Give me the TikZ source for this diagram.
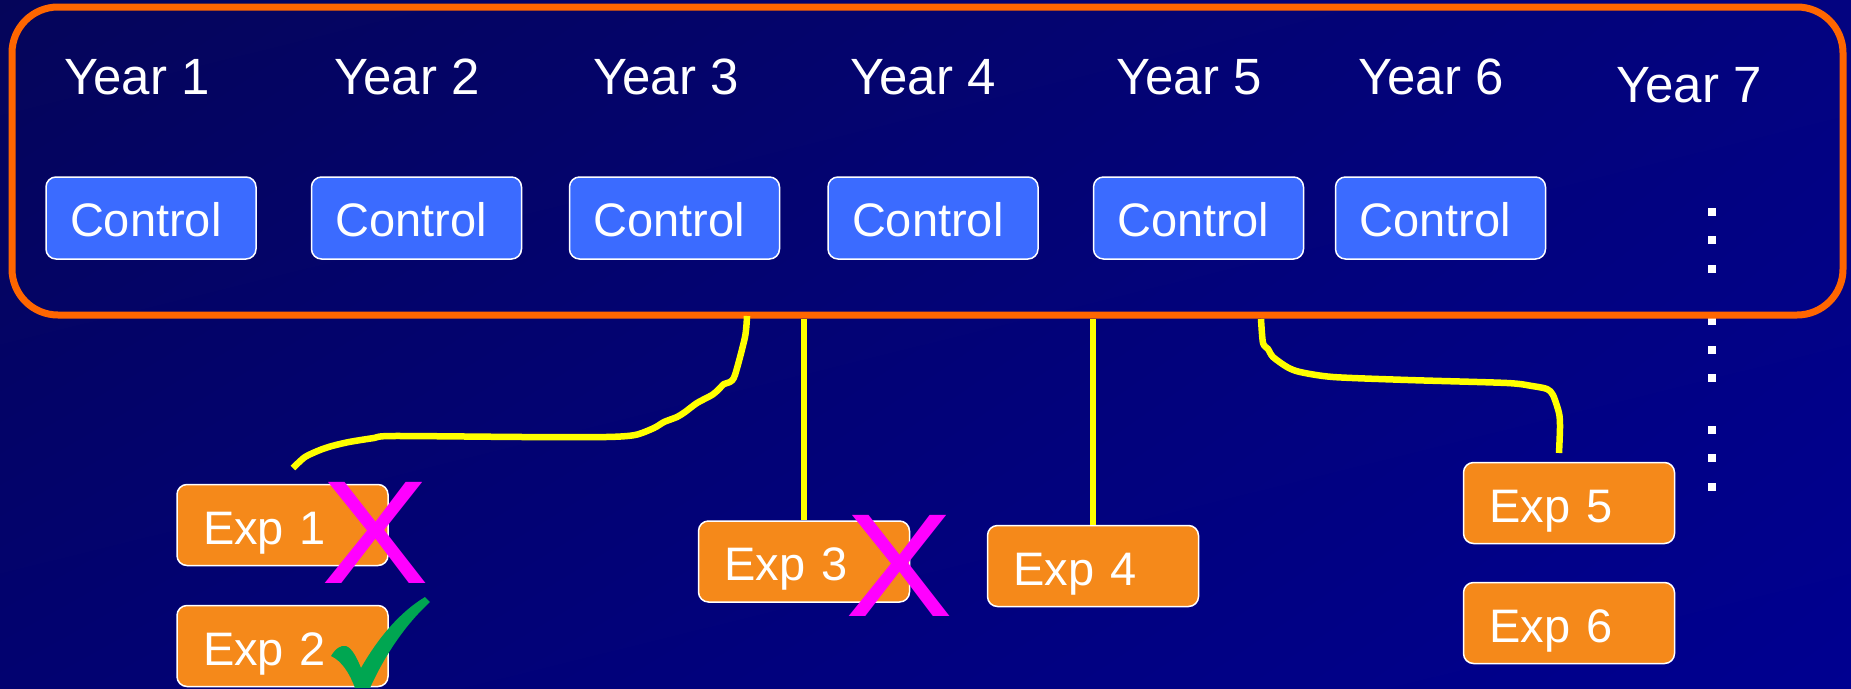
\documentclass[tikz,border=0pt]{standalone}
\usepackage{fontspec}
\setmainfont{Liberation Sans}
\usetikzlibrary{shadings}
\definecolor{bgUL}{HTML}{05055A}
\definecolor{bgUR}{HTML}{030380}
\definecolor{bgLL}{HTML}{020270}
\definecolor{bgLR}{HTML}{000090}
\definecolor{frameorange}{HTML}{FF6600}
\definecolor{ctrlblue}{HTML}{3B6BFF}
\definecolor{exporange}{HTML}{F5891A}
\definecolor{inkyellow}{HTML}{FFFF00}
\definecolor{xmagenta}{HTML}{FF00FF}
\definecolor{checkgreen}{HTML}{00A651}
\begin{document}
\begin{tikzpicture}[x=1pt,y=-1pt,
  yearlbl/.style={text=white, font=\fontsize{51}{60}\selectfont, anchor=base, inner sep=0pt},
  ctrlbox/.style={draw=white, line width=1.5pt, fill=ctrlblue, rounded corners=10pt,
    minimum height=82pt, inner xsep=24pt, inner ysep=0pt, text width=162pt, align=left,
    text height=37.5pt, text depth=0pt, text=white, font=\fontsize{47}{56}\selectfont},
  expbox/.style={draw=white, line width=1.5pt, fill=exporange, rounded corners=10pt,
    minimum height=81pt, inner xsep=26pt, inner ysep=0pt, text width=159pt, align=left,
    text height=38pt, text depth=0pt, text=white, font=\fontsize{47}{56}\selectfont},
  frameline/.style={draw=frameorange, line width=7pt, rounded corners=46pt},
  yl/.style={draw=inkyellow, line width=6.5pt},
  xmark/.style={text=xmagenta, font=\fontsize{147}{155}\selectfont, anchor=base, inner sep=0pt,
    xscale=1.1, transform shape},
  dotsq/.style={fill=white}
]
\useasboundingbox (0,0) rectangle (1851,688);
\shade[upper left=bgUL, upper right=bgUR, lower left=bgLL, lower right=bgLR] (0,0) rectangle (1851,688);

% ellipsis dots
\foreach \yy in {212,240,269,321,350,378,430,458,487}
  \fill[dotsq] (1707.5,\yy-4.25) rectangle ++(8.5,8.5);

% frame
\node[frameline, minimum width=1831pt, minimum height=308pt, inner sep=0pt] (frame) at (927.5,161) {};

% years
\node[yearlbl] (y1) at (137,94) {Year 1};
\node[yearlbl] (y2) at (407,94) {Year 2};
\node[yearlbl] (y3) at (666,94) {Year 3};
\node[yearlbl] (y4) at (923,94) {Year 4};
\node[yearlbl] (y5) at (1189,94) {Year 5};
\node[yearlbl] (y6) at (1431,94) {Year 6};
\node[yearlbl] (y7) at (1689,102) {Year 7};

% controls
\node[ctrlbox] (c1) at (151,218) {Control};
\node[ctrlbox] (c2) at (416.5,218) {Control};
\node[ctrlbox] (c3) at (674.5,218) {Control};
\node[ctrlbox] (c4) at (933,218) {Control};
\node[ctrlbox] (c5) at (1198.5,218) {Control};
\node[ctrlbox] (c6) at (1440.5,218) {Control};

% experiments
\node[expbox] (e1) at (282.5,525) {Exp 1};
\node[expbox] (e2) at (282.5,646) {Exp 2};
\node[expbox] (e3) at (804,561.5) {Exp 3};
\node[expbox] (e4) at (1093,566) {Exp 4};
\node[expbox] (e5) at (1569,503) {Exp 5};
\node[expbox] (e6) at (1569,623) {Exp 6};

% yellow connectors
\draw[yl] (e3.north) -- (e3.north |- frame.south);
\draw[yl] (e4.north) -- (e4.north |- frame.south);
\coordinate (s1end) at (293,468);
\coordinate (s2end) at (1559,453);
\draw[yl, line join=round] plot[smooth, tension=0.45] coordinates {
  (747,316) (745,337) (735,375) (730,382) (724,384) (718,390) (712,395)
  (697,403) (685,412) (677,417) (664,422) (654,428) (635,435) (606,437)
  (523,437) (393,436) (374,438) (349,442) (332,446) (320,450) (305,457) (s1end)};
\draw[yl, line join=round] plot[smooth, tension=0.45] coordinates {
  (1261,319) (1263,343) (1268,349) (1273,357) (1287,367) (1300,372) (1333,377)
  (1408,380) (1507,383) (1532,386) (1547,389) (1553,395) (1559,413) (1560,427) (s2end)};

% marks
\node[xmark] (x1) at (375,583) {X};
\node[xmark] (x3) at (899,616) {X};
\fill[checkgreen] (331,656) .. controls (336,648) and (341,645) .. (346,646)
  .. controls (352,648) and (357,658) .. (361,668)
  .. controls (378,638) and (400,612) .. (425,597) -- (430,602)
  .. controls (405,625) and (385,655) .. (370,688) -- (355,688)
  .. controls (350,674) and (342,661) .. (331,656) -- cycle;
\end{tikzpicture}
\end{document}
